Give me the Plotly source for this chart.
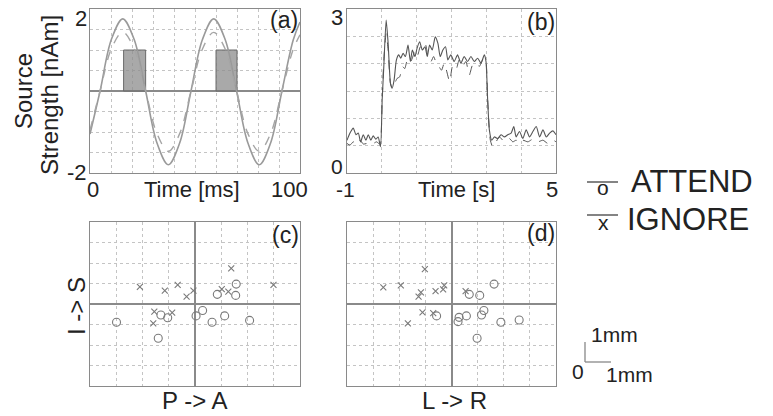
import plotly.graph_objects as go

W, H = 773, 416

# ---------------- Panel (a): source strength vs time [ms] ----------------
a_t = [0, 4.8, 10.2, 15.6, 21.0, 26.5, 31.9, 37.3, 42.7, 48.1, 53.5, 58.9,
       64.4, 69.8, 75.2, 80.6, 86.0, 91.4, 96.8, 100]
a_solid = [-1.05, 0.0, 1.26, 1.76, 1.26, 0.0, -1.27, -1.80, -1.27, 0.0, 1.25,
           1.76, 1.25, 0.0, -1.27, -1.80, -1.27, 0.0, 1.25, 1.68]
a_dashed = [-0.95, 0.0, 1.03, 1.44, 1.03, 0.0, -1.04, -1.47, -1.04, 0.0, 1.02,
            1.43, 1.02, 0.0, -1.04, -1.47, -1.04, 0.0, 1.02, 1.37]
pulse_start = [16.0, 60.0]
pulse_end = [26.5, 70.0]
pulse_height = [1.0, 1.0]

# ---------------- Panel (b): source strength vs time [s] ----------------
b_t_solid = [-1.0, -0.914, -0.819, -0.743, -0.676, -0.610, -0.533, -0.457, -0.390,
             -0.314, -0.248, -0.171, -0.105, -0.038, 0.01, 0.057, 0.124, 0.181,
             0.248, 0.295, 0.352, 0.419, 0.486, 0.543, 0.610, 0.676, 0.752, 0.819,
             0.876, 0.952, 1.010, 1.086, 1.162, 1.238, 1.305, 1.371, 1.448, 1.533,
             1.610, 1.676, 1.752, 1.829, 1.895, 1.98, 2.077, 2.173, 2.269, 2.365,
             2.462, 2.558, 2.654, 2.75, 2.846, 2.942, 2.99, 3.038, 3.087, 3.154,
             3.231, 3.327, 3.423, 3.519, 3.615, 3.712, 3.788, 3.856, 3.952, 4.048,
             4.144, 4.24, 4.337, 4.433, 4.529, 4.625, 4.721, 4.817, 4.913, 5.0]
b_solid = [0.60, 0.73, 0.82, 0.70, 0.73, 0.57, 0.70, 0.60, 0.70,
           0.60, 0.68, 0.62, 0.66, 0.48, 1.34, 1.95, 2.80, 2.37,
           1.64, 1.55, 1.70, 2.07, 2.16, 2.10, 2.19, 2.13, 2.34, 2.04,
           2.25, 2.13, 2.28, 2.40, 2.25, 2.31, 2.13, 2.34, 2.25, 2.49,
           2.37, 2.13, 2.25, 2.31, 2.07, 2.16, 2.04, 2.16, 2.01, 2.13,
           2.04, 2.13, 2.04, 2.10, 2.01, 2.16, 2.04, 1.34, 0.79, 0.60,
           0.66, 0.63, 0.70, 0.66, 0.70, 0.73, 0.85, 0.66, 0.76, 0.63,
           0.79, 0.66, 0.76, 0.85, 0.66, 0.79, 0.66, 0.73, 0.77, 0.70]

b_t_dashed = [-1.0, -0.914, -0.819, -0.724, -0.629, -0.533, -0.438, -0.343, -0.248,
              -0.152, -0.057, 0.01, 0.057, 0.124, 0.181, 0.248, 0.305, 0.371,
              0.438, 0.514, 0.590, 0.657, 0.733, 0.8, 0.876, 0.952, 1.029, 1.105,
              1.181, 1.257, 1.333, 1.410, 1.486, 1.562, 1.638, 1.714, 1.790, 1.867,
              1.943, 1.962, 2.029, 2.125, 2.221, 2.317, 2.413, 2.51, 2.606, 2.702,
              2.798, 2.894, 2.971, 3.038, 3.115, 3.183, 3.279, 3.375, 3.471, 3.567,
              3.663, 3.760, 3.856, 3.952, 4.048, 4.192, 4.337, 4.481, 4.625, 4.769,
              4.913, 5.0]
b_dashed = [0.54, 0.51, 0.57, 0.51, 0.60, 0.53, 0.54, 0.57, 0.54,
            0.57, 0.53, 1.34, 2.07, 2.55, 2.25, 1.64, 1.55, 1.64,
            1.73, 1.76, 1.95, 1.91, 2.07, 2.01, 2.10, 2.25, 2.16, 2.31,
            2.25, 2.34, 2.10, 2.04, 2.13, 2.01, 1.95, 1.88, 2.01, 1.85,
            1.67, 1.70, 1.95, 1.88, 2.07, 1.95, 2.04, 1.79, 1.98, 2.01,
            1.95, 2.07, 2.10, 1.34, 0.60, 0.48, 0.57, 0.66, 0.60, 0.57,
            0.63, 0.57, 0.60, 0.54, 0.60, 0.57, 0.62, 0.57, 0.60, 0.54,
            0.60, 0.57]

# ---------------- Panel (c): P -> A vs I -> S (mm) ----------------
c_ignore_x = [-2.10, -1.15, -0.66, -0.32, -0.06, 1.38, 1.02, 1.27, 2.99, -1.55, -0.87, -1.59]
c_ignore_y = [0.84, 0.65, 0.93, 0.36, 0.65, 1.74, 0.73, 0.60, 0.93, -0.37, -0.42, -0.94]
c_attend_x = [-2.99, -1.40, -1.30, -1.04, 0.04, 0.29, 0.65, 0.85, 1.13, 1.57, 1.55, 2.08]
c_attend_y = [-0.89, -1.67, -0.54, -0.67, -0.58, -0.32, -0.89, 0.47, -0.58, 0.97, 0.42, -0.80]

# ---------------- Panel (d): L -> R vs I -> S (mm) ----------------
d_ignore_x = [-2.61, -1.94, -1.02, -1.17, -1.26, -0.61, -0.32, -0.28, 0.54, -1.11, -0.70, -1.67]
d_ignore_y = [0.81, 0.91, 1.70, 0.57, 0.36, 0.63, 0.71, 0.91, 0.63, -0.41, -0.45, -0.94]
d_attend_x = [-0.57, 0.25, 0.29, 0.57, 0.68, 1.08, 1.63, 1.15, 1.24, 0.98, 1.89, 2.59]
d_attend_y = [-0.58, -0.86, -0.65, -0.58, 0.47, 0.42, 0.97, -0.54, -0.32, -1.67, -0.89, -0.78]

# tick labels
a_xticks = [0, 100]
a_yticks = [-2, 2]
b_xticks = [-1, 5]
b_yticks = [0, 3]

FONT = "Liberation Sans, Arial, sans-serif"
TXT = "#222222"

def px(x, y):
    return x / W, 1 - y / H

fig = go.Figure()

# panel (a)
fig.add_trace(go.Scatter(x=a_t, y=a_solid, mode="lines", line=dict(color="#9a9a9a", width=1.6, shape="spline", smoothing=1.0),
                         xaxis="x", yaxis="y", showlegend=False, hoverinfo="skip"))
fig.add_trace(go.Scatter(x=a_t, y=a_dashed, mode="lines", line=dict(color="#a5a5a5", width=1.4, dash="dash", shape="spline", smoothing=1.0),
                         xaxis="x", yaxis="y", showlegend=False, hoverinfo="skip"))
for s, e, h in zip(pulse_start, pulse_end, pulse_height):
    fig.add_shape(type="rect", xref="x", yref="y", x0=s, x1=e, y0=0, y1=h,
                  fillcolor="rgba(140,140,140,0.75)", line=dict(color="#6a6a6a", width=1), layer="between")

# panel (b)
fig.add_trace(go.Scatter(x=b_t_solid, y=b_solid, mode="lines", line=dict(color="#555555", width=1.1, shape="spline", smoothing=0.6),
                         xaxis="x2", yaxis="y2", showlegend=False, hoverinfo="skip"))
fig.add_trace(go.Scatter(x=b_t_dashed, y=b_dashed, mode="lines", line=dict(color="#555555", width=1.0, dash="dash", shape="spline", smoothing=0.6),
                         xaxis="x2", yaxis="y2", showlegend=False, hoverinfo="skip"))

# panels (c), (d)
mk_o = dict(symbol="circle-open", size=8, color="#7a7a7a", line=dict(width=1.1, color="#7a7a7a"))
mk_x = dict(symbol="x-thin-open", size=6, color="#7a7a7a", line=dict(width=1.1, color="#7a7a7a"))
fig.add_trace(go.Scatter(x=c_ignore_x, y=c_ignore_y, mode="markers", marker=mk_x, xaxis="x3", yaxis="y3", showlegend=False, hoverinfo="skip"))
fig.add_trace(go.Scatter(x=c_attend_x, y=c_attend_y, mode="markers", marker=mk_o, xaxis="x3", yaxis="y3", showlegend=False, hoverinfo="skip"))
fig.add_trace(go.Scatter(x=d_ignore_x, y=d_ignore_y, mode="markers", marker=mk_x, xaxis="x4", yaxis="y4", showlegend=False, hoverinfo="skip"))
fig.add_trace(go.Scatter(x=d_attend_x, y=d_attend_y, mode="markers", marker=mk_o, xaxis="x4", yaxis="y4", showlegend=False, hoverinfo="skip"))

def ax(domain, rng, dtick, anchor, zeroline=False):
    return dict(domain=domain, range=rng, dtick=dtick, tick0=rng[0], anchor=anchor,
                showgrid=True, gridcolor="#c4c4c4", griddash="dot", gridwidth=1,
                showline=True, mirror=True, linecolor="#8a8a8a", linewidth=1,
                ticks="", showticklabels=False, zeroline=zeroline,
                zerolinecolor="#8a8a8a", zerolinewidth=1.5, fixedrange=True)

xL = [90 / W, 300 / W]
xR = [347 / W, 556 / W]
yT = [1 - 173 / H, 1 - 9 / H]
yB = [1 - 386 / H, 1 - 222 / H]

fig.update_layout(
    width=W, height=H, margin=dict(l=0, r=0, t=0, b=0),
    paper_bgcolor="white", plot_bgcolor="white",
    font=dict(family=FONT, color=TXT),
    xaxis=ax(xL, [0, 100], 10, "y"),
    yaxis=ax(yT, [-2, 2], 0.5, "x", zeroline=True),
    xaxis2=ax(xR, [-1, 5], 1, "y2"),
    yaxis2=ax(yT, [0, 3], 0.5, "x2"),
    xaxis3=ax(xL, [-4, 4], 1, "y3", zeroline=True),
    yaxis3=ax(yB, [-4, 4], 1, "x3", zeroline=True),
    xaxis4=ax(xR, [-4, 4], 1, "y4", zeroline=True),
    yaxis4=ax(yB, [-4, 4], 1, "x4", zeroline=True),
)

def text(x, y, s, size=22, angle=0, xanchor="center"):
    xp, yp = px(x, y)
    fig.add_annotation(x=xp, y=yp, xref="paper", yref="paper", text=s, showarrow=False,
                       font=dict(size=size, family=FONT, color=TXT), textangle=angle,
                       xanchor=xanchor, yanchor="middle", borderpad=0)

# tick labels (a)
text(93, 189, str(a_xticks[0]))
text(289, 189, str(a_xticks[1]))
text(88, 19, str(a_yticks[1]), xanchor="right")
text(88, 172, str(a_yticks[0]), xanchor="right")
text(192, 190, "Time [ms]")
# tick labels (b)
text(345, 190, str(b_xticks[0]), size=21)
text(552, 189, str(b_xticks[1]))
text(344, 18, str(b_yticks[1]), xanchor="right")
text(344, 166, str(b_yticks[0]), size=21, xanchor="right")
text(456, 190, "Time [s]")

# axis titles
text(23, 91, "Source", size=24, angle=-90)
text(50, 95, "Strength [nAm]", size=24, angle=-90)
text(76, 306, "I -> S", size=24, angle=-90)
text(195, 400, "P -> A", size=24)
text(455, 400, "L -> R", size=24)

# panel labels
text(284, 20, "(a)", size=23)
text(541, 22, "(b)", size=23)
text(285, 235, "(c)", size=23)
text(541, 233, "(d)", size=23)

# legend
for yl, ym, mk, lab, xl, yt in [(182, 188, "o", "ATTEND", 630, 181), (215, 222, "x", "IGNORE", 626, 219)]:
    x0, y0 = px(587, yl)
    x1, _ = px(618, yl)
    fig.add_shape(type="line", xref="paper", yref="paper", x0=x0, x1=x1, y0=y0, y1=y0,
                  line=dict(color="#333333", width=1.2))
    text(603, ym, mk, size=21)
    text(xl, yt, lab, size=31, xanchor="left")

# scale bar
sx0, sy0 = px(585, 342)
sx1, sy1 = px(585, 362)
sx2, _ = px(611, 362)
fig.add_shape(type="line", xref="paper", yref="paper", x0=sx0, x1=sx1, y0=sy0, y1=sy1,
              line=dict(color="#888888", width=1.3))
fig.add_shape(type="line", xref="paper", yref="paper", x0=sx1, x1=sx2, y0=sy1, y1=sy1,
              line=dict(color="#888888", width=1.3))
text(614, 334, "1mm", size=21)
text(578, 371, "0", size=21)
text(629, 374, "1mm", size=21)

fig.write_html("out.html", config={"displayModeBar": False},
               post_script="document.body.style.margin='0';document.body.style.padding='0';document.body.style.overflow='hidden';")
